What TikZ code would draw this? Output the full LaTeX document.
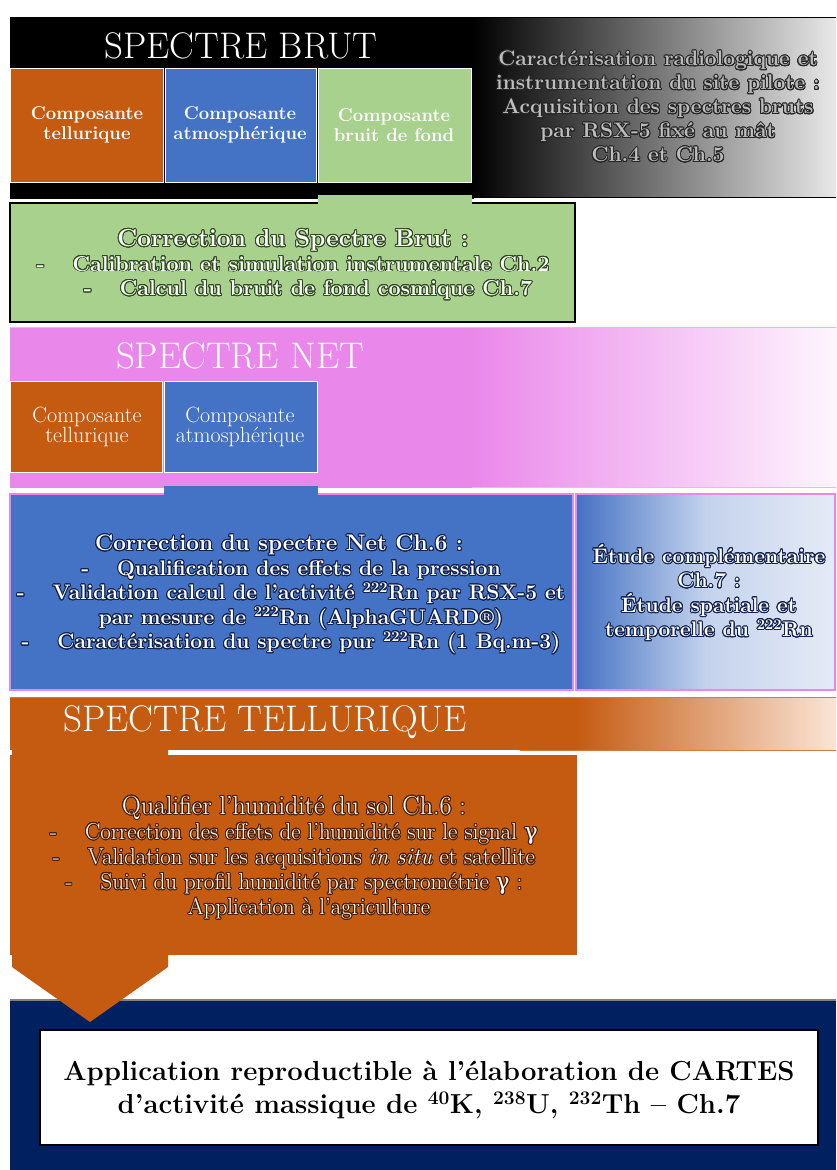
\documentclass[tikz,border=0pt]{standalone}
\usepackage{fontspec}
\usepackage{contour}
\newfontfamily\gk{DejaVu Serif}
\contourlength{0.9pt}
\contournumber{24}
\definecolor{orng}{HTML}{C55A11}
\definecolor{blu}{HTML}{4472C4}
\definecolor{grn}{HTML}{A9D18E}
\definecolor{pnk}{HTML}{EA87EA}
\definecolor{pnkl}{HTML}{F3B0F3}
\definecolor{navy}{HTML}{002060}
\definecolor{peach}{HTML}{FBE5D6}
\definecolor{lblu}{HTML}{DAE3F3}
\definecolor{gdark}{HTML}{2E4A1E}
\definecolor{bdark}{HTML}{13224D}
\definecolor{odark}{HTML}{4A1E04}
\definecolor{lgray}{HTML}{BDBDBD}
\tikzset{
  comp/.style={draw=white, line width=0.8pt},
  title/.style={inner sep=0pt, text=white, font=\fontsize{37}{42}\selectfont},
  clab/.style={inner sep=0pt, align=center, text=white, font=\fontsize{18.5}{20}\selectfont\bfseries},
  nlab/.style={inner sep=0pt, align=center, text=white, font=\fontsize{22}{20}\selectfont},
  btxt/.style={inner sep=0pt, align=center, text=white, font=\fontsize{21.5}{24.5}\selectfont\bfseries},
  otxt/.style={inner sep=0pt, align=center, text=white, font=\fontsize{23}{25}\selectfont},
}
\newcommand\bl{-\hspace{28pt}}
\begin{document}
\begin{tikzpicture}[x=1pt,y=-1pt]
\useasboundingbox (0,0) rectangle (836,1170);
\fill[white] (0,0) rectangle (836,1170);
% ---------- SPECTRE BRUT ----------
\fill[black] (10,17) rectangle (474,199);
\shade[left color=black, right color=gray!18] (472,17) rectangle (836,197);
\draw[black, line width=0.8pt] (472,17) -- (836,17) (472,197) -- (836,197);
\fill[orng, comp] (10,68) rectangle (163,182);
\fill[blu, comp] (165,68) rectangle (316,182);
\fill[grn, comp] (318,68) rectangle (471,182);
\node[title] (tbrut) at (241,46) {SPECTRE BRUT};
\node[clab] (c1) at (87,125) {Composante\\tellurique};
\node[clab] (c2) at (240,125) {Composante\\atmosphérique};
\node[clab] (c3) at (394,125) {Composante\\bruit de fond};
\node[btxt, text=lgray, font=\fontsize{21}{24}\selectfont\bfseries] (acq) at (658,107) {%
\contour{black!85}{Caractérisation radiologique et}\\
\contour{black!85}{instrumentation du site pilote :}\\
\contour{black!85}{Acquisition des spectres bruts}\\
\contour{black!85}{par RSX-5 fixé au mât}\\
\contour{black!85}{Ch.4 et Ch.5}};
% ---------- Correction brut ----------
\fill[grn, draw=black, line width=1.5pt] (10,203) rectangle (575,322);
\fill[grn] (318,195) rectangle (472,204);
\node[btxt] (corbrut) at (293,265) {%
\contour{gdark}{\fontsize{24.5}{24.5}\selectfont Correction du Spectre Brut :}\\
\contour{gdark}{\bl Calibration et simulation instrumentale Ch.2}\\
\contour{gdark}{\hspace{30pt}\bl Calcul du bruit de fond cosmique Ch.7}};
% ---------- SPECTRE NET ----------
\fill[pnk] (10,327) rectangle (472,488);
\shade[left color=pnk, right color=pnk!8] (470,327) rectangle (836,487);
\draw[pnkl, line width=1pt] (10,327) -- (836,327) (472,487) -- (836,487);
\fill[orng, comp] (10,381) rectangle (162,472);
\fill[blu, comp] (164,381) rectangle (317,472);
\node[title] (tnet) at (240,356) {SPECTRE NET};
\node[nlab] (n1) at (87,427) {Composante\\tellurique};
\node[nlab] (n2) at (240,427) {Composante\\atmosphérique};
% ---------- Correction net ----------
\fill[blu, draw=pnk, line width=1.5pt] (10,494) rectangle (573,690);
\fill[blu] (164,486) rectangle (318,495);
\shade[left color=blu, right color=lblu!70!white, middle color=lblu!85!blu, draw=pnk, line width=1.5pt] (576,494) rectangle (835,690);
\node[btxt, font=\fontsize{21}{24.5}\selectfont\bfseries] (cornet) at (291,595) {%
\contour{bdark}{\fontsize{22.5}{24.5}\selectfont Correction du spectre Net Ch.6 :}\hspace*{24pt}\\
\contour{bdark}{\bl Qualification des effets de la pression}\\
\contour{bdark}{\bl Validation calcul de l’activité \textsuperscript{222}Rn par RSX-5 et}\\
\contour{bdark}{\hspace{20pt}par mesure de \textsuperscript{222}Rn (AlphaGUARD®)}\\
\contour{bdark}{\bl Caractérisation du spectre pur \textsuperscript{222}Rn (1 Bq.m-3)}};
\node[btxt, font=\fontsize{21}{24.5}\selectfont\bfseries] (etude) at (709,593) {%
\contour{bdark}{Étude complémentaire}\\
\contour{bdark}{Ch.7 :}\\
\contour{bdark}{Étude spatiale et}\\
\contour{bdark}{temporelle du \textsuperscript{222}Rn}};
% ---------- navy bottom ----------
\fill[navy] (10,1000) rectangle (836,1170);
\draw[gray, line width=1.2pt] (10,1000) -- (836,1000);
% ---------- SPECTRE TELLURIQUE ----------
\fill[orng] (10,697) rectangle (577,750);
\shade[left color=orng, right color=peach] (575,697) rectangle (836,750);
\draw[orng!80!white, line width=0.8pt] (10,697) -- (836,697) (520,750) -- (836,750);
\draw[white, line width=1pt] (168,750) -- (520,750);
\fill[orng] (12,745) -- (168,745) -- (168,967) -- (90,1022) -- (12,967) -- cycle;
\fill[orng] (10,755) rectangle (577,955);
\node[title, anchor=west] (ttell) at (63,722) {SPECTRE TELLURIQUE};
\node[otxt] (hum) at (294,858) {%
\contour{odark}{\fontsize{26}{25}\selectfont Qualifier l’humidité du sol Ch.6 :}\\
\contour{odark}{\bl Correction des effets de l’humidité sur le signal {\gk γ}}\\
\contour{odark}{\bl Validation sur les acquisitions \textit{in situ} et satellite}\\
\contour{odark}{\bl Suivi du profil humidité par spectrométrie {\gk γ} :}\\
\contour{odark}{\hspace{30pt}Application à l’agriculture}};
% ---------- final box ----------
\fill[white, draw=black, line width=1.5pt] (40,1030) rectangle (818,1145);
\node[inner sep=0pt, align=center, font=\fontsize{27.5}{33}\selectfont\bfseries] (app) at (429,1090)
 {Application reproductible à l’élaboration de CARTES\\
 d’activité massique de \textsuperscript{40}K, \textsuperscript{238}U, \textsuperscript{232}Th – Ch.7};
\end{tikzpicture}
\end{document}
